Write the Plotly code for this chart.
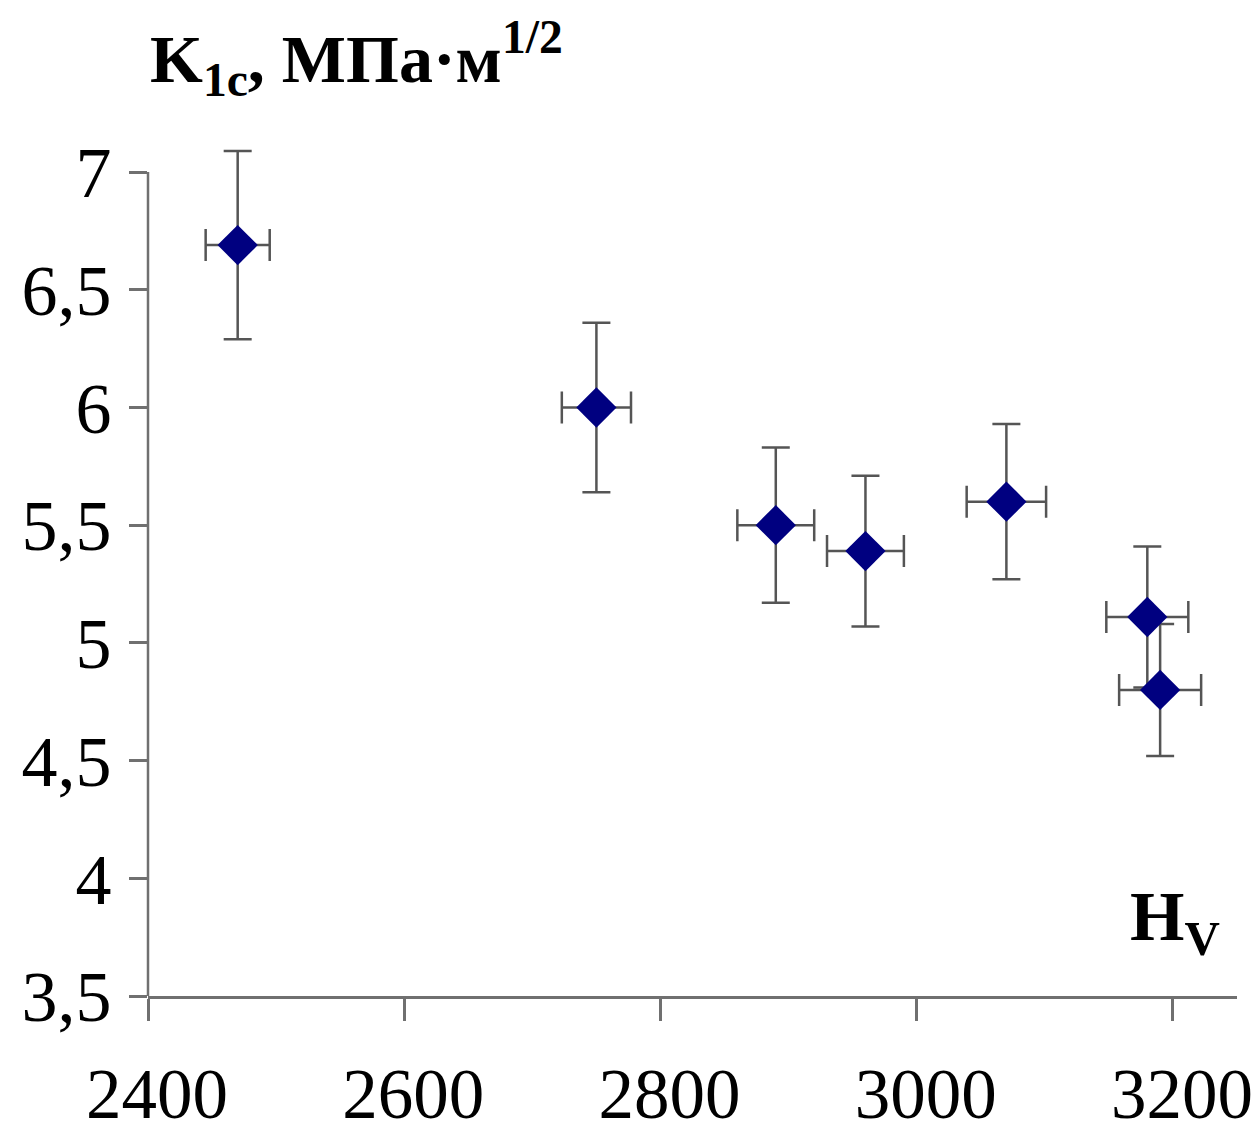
import plotly.graph_objects as go

hv = [2470, 2750, 2890, 2960, 3070, 3180, 3190]
k1c = [6.69, 6.00, 5.50, 5.39, 5.60, 5.11, 4.80]
k1c_err = [0.40, 0.36, 0.33, 0.32, 0.33, 0.30, 0.28]
hv_err = [25, 27, 30, 30, 31, 32, 32]

y_ticks = [3.5, 4, 4.5, 5, 5.5, 6, 6.5, 7]
y_labels = ["3,5", "4", "4,5", "5", "5,5", "6", "6,5", "7"]
x_ticks = [2400, 2600, 2800, 3000, 3200]
x_labels = ["2400", "2600", "2800", "3000", "3200"]

err_color = "#555555"
axis_color = "#707070"
serif = "Liberation Serif"

# body margin removed via post_script, so figure fills the window
W, H = 1255, 1121
L, R, T, B = 148, 18, 125, 125
plot_h = H - T - B
plot_w = W - L - R

fig = go.Figure()
fig.add_trace(go.Scatter(
    x=hv, y=k1c, mode="markers",
    marker=dict(symbol="diamond", size=31, color="#000080"),
    error_y=dict(type="data", array=k1c_err, visible=True, color=err_color, thickness=2.5, width=14),
    error_x=dict(type="data", array=hv_err, visible=True, color=err_color, thickness=2.5, width=16),
    cliponaxis=False,
    showlegend=False,
))

# y axis line only from 3.5 up to 7
fig.add_shape(type="line", xref="paper", yref="y", x0=0, x1=0, y0=y_ticks[0], y1=y_ticks[-1],
              line=dict(color=axis_color, width=2.5))

fig.update_layout(
    width=W, height=H,
    margin=dict(l=L, r=R, t=T, b=B),
    paper_bgcolor="white", plot_bgcolor="white",
    font=dict(family=serif, size=66, color="black"),
    xaxis=dict(range=[2400, 3250], tickvals=x_ticks, ticktext=x_labels,
               showline=True, linecolor=axis_color, linewidth=2.5,
               ticks="outside", ticklen=22, tickwidth=2.5, tickcolor=axis_color,
               showgrid=False, zeroline=False, ticklabelstandoff=12, ticklabelshift=9,
               automargin=False,
               tickfont=dict(family=serif, size=71)),
    yaxis=dict(range=[3.5, 7.2], tickvals=y_ticks, ticktext=y_labels,
               showline=False,
               ticks="outside", ticklen=18, tickwidth=2.5, tickcolor=axis_color,
               showgrid=False, zeroline=False, ticklabelstandoff=3, automargin=False,
               tickfont=dict(family=serif, size=72)),
    annotations=[
        dict(text="<b>K<sub>1c</sub>, МПа·м<sup>1/2</sup></b>", xref="paper", yref="paper",
             x=0, y=(H - B - 108) / plot_h, xanchor="left", yanchor="bottom",
             showarrow=False, font=dict(family=serif, size=68, color="black")),
        dict(text="<b>H<sub>V</sub></b>", xref="paper", yref="paper",
             x=(1222 - L) / plot_w, y=(H - B - 968) / plot_h, xanchor="right", yanchor="bottom",
             showarrow=False, font=dict(family=serif, size=70, color="black")),
    ],
)

fig.write_html("out.html", config={"displayModeBar": False},
               post_script="document.body.style.margin='0';document.body.style.overflow='hidden';")
